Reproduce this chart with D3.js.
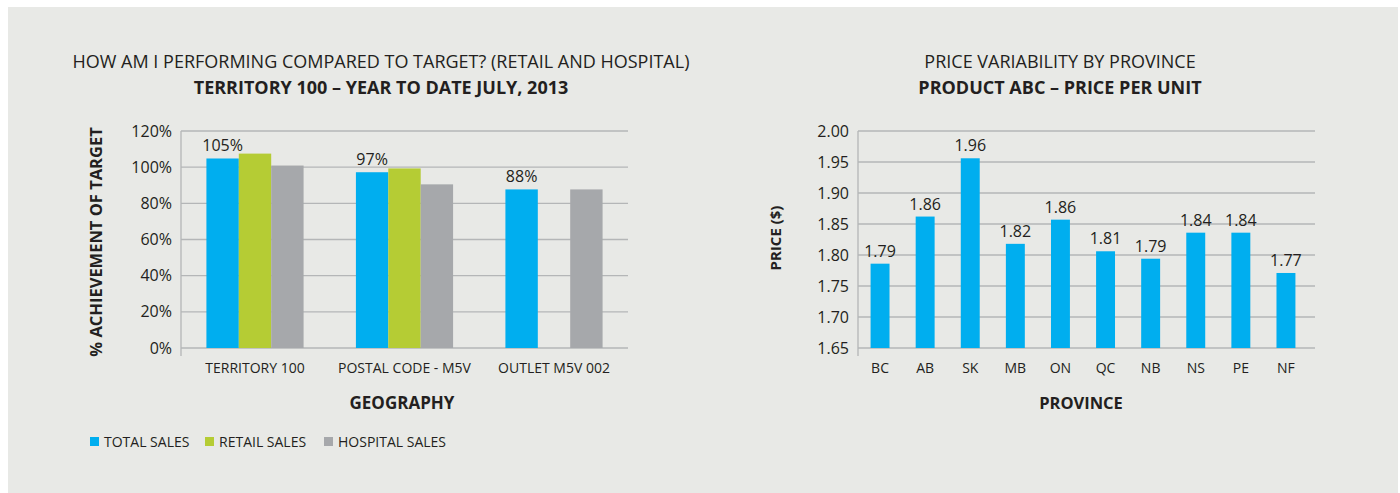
<!DOCTYPE html>
<html>
<head>
<meta charset="utf-8">
<script src="https://cdn.jsdelivr.net/npm/d3@7"></script>
<style>
  body { margin: 0; background: #fff; }
  svg text { font-family: "Open Sans", sans-serif; fill: #231f20; }
</style>
</head>
<body>
<script>
// left chart: achievement vs target
const geographies = ["TERRITORY 100", "POSTAL CODE - M5V", "OUTLET M5V 002"];
const seriesNames = ["TOTAL SALES", "RETAIL SALES", "HOSPITAL SALES"];
const totalSales = [104.8, 97.2, 87.7];
const retailSales = [107.5, 99.3, null];
const hospitalSales = [100.9, 90.5, 87.7];
const pctTicks = [0, 20, 40, 60, 80, 100, 120];
const pctLabels = ["105%", "97%", "88%"];

// right chart: price per unit
const provinces = ["BC", "AB", "SK", "MB", "ON", "QC", "NB", "NS", "PE", "NF"];
const prices = [1.786, 1.862, 1.956, 1.818, 1.857, 1.806, 1.794, 1.836, 1.836, 1.771];
const priceTicks = [1.65, 1.70, 1.75, 1.80, 1.85, 1.90, 1.95, 2.00];

const colors = ["#00aeef", "#b5cc34", "#a6a8ab"];
const gridColor = "#b4b6b7";

const [width, height] = [1400, 493];

const svg = d3.select("body")
  .append("svg")
  .attr("width", width)
  .attr("height", height);

svg.append("rect")
  .attr("x", 8).attr("y", 7)
  .attr("width", 1390).attr("height", 486)
  .attr("fill", "#e8e9e6");

function titles(cx, line1, line2) {
  svg.append("text")
    .attr("x", cx).attr("y", 68)
    .attr("text-anchor", "middle")
    .style("font-size", "18px")
    .text(line1);
  svg.append("text")
    .attr("x", cx).attr("y", 94)
    .attr("text-anchor", "middle")
    .style("font-size", "18px")
    .style("font-weight", "bold")
    .text(line2);
}

function grid(g, y, x0, x1, ticks, fmt) {
  g.selectAll(".grid")
    .data(ticks)
    .enter()
    .append("line")
    .attr("x1", x0).attr("x2", x1)
    .attr("y1", d => y(d)).attr("y2", d => y(d))
    .attr("stroke", gridColor)
    .attr("stroke-width", 1.3);

  g.append("line")
    .attr("x1", x0).attr("x2", x0)
    .attr("y1", y.range()[1]).attr("y2", y.range()[0] + 8)
    .attr("stroke", gridColor)
    .attr("stroke-width", 1.3);

  g.selectAll(".ytick")
    .data(ticks)
    .enter()
    .append("text")
    .attr("x", x0 - 9)
    .attr("y", d => y(d))
    .attr("dy", "0.35em")
    .attr("text-anchor", "end")
    .style("font-size", "16px")
    .text(fmt);
}

// ---- left chart
titles(381, "HOW AM I PERFORMING COMPARED TO TARGET? (RETAIL AND HOSPITAL)",
  "TERRITORY 100 \u2013 YEAR TO DATE JULY, 2013");

const left = svg.append("g");
const yPct = d3.scaleLinear().domain([0, 120]).range([348, 131]);
const xGeo = d3.scaleBand().domain(geographies).range([180.25, 628.75]).paddingInner(0.35).paddingOuter(0.175);
const xSeries = d3.scaleBand().domain(seriesNames).range([0, xGeo.bandwidth()]);

grid(left, yPct, 181, 628, pctTicks, d => d + "%");

const rows = geographies.map((g, i) => ({
  geo: g,
  values: [totalSales[i], retailSales[i], hospitalSales[i]]
}));

left.selectAll(".group")
  .data(rows)
  .enter()
  .append("g")
  .attr("transform", d => `translate(${xGeo(d.geo)},0)`)
  .selectAll("rect")
  .data(d => d.values.map((v, j) => ({ s: seriesNames[j], v, j })).filter(d => d.v != null))
  .enter()
  .append("rect")
  .attr("x", d => xSeries(d.s))
  .attr("width", xSeries.bandwidth())
  .attr("y", d => yPct(d.v))
  .attr("height", d => yPct(0) - yPct(d.v))
  .attr("fill", d => colors[d.j]);

left.selectAll(".vlabel")
  .data(rows)
  .enter()
  .append("text")
  .attr("x", (d, i) => xGeo(d.geo) + xSeries(seriesNames[0]) + xSeries.bandwidth() / 2)
  .attr("y", (d, i) => yPct(totalSales[i]) - 7)
  .attr("text-anchor", "middle")
  .style("font-size", "16px")
  .text((d, i) => pctLabels[i]);

left.selectAll(".xlabel")
  .data(geographies)
  .enter()
  .append("text")
  .attr("x", d => xGeo(d) + xGeo.bandwidth() / 2)
  .attr("y", 373)
  .attr("text-anchor", "middle")
  .style("font-size", "14px")
  .text(d => d);

left.append("text")
  .attr("x", 402).attr("y", 409)
  .attr("text-anchor", "middle")
  .style("font-size", "17px")
  .style("font-weight", "bold")
  .text("GEOGRAPHY");

left.append("text")
  .attr("transform", "translate(102,242) rotate(-90)")
  .attr("text-anchor", "middle")
  .style("font-size", "16.5px")
  .style("font-weight", "bold")
  .text("% ACHIEVEMENT OF TARGET");

const legendX = [90, 205, 324];
const legend = left.selectAll(".legend")
  .data(seriesNames)
  .enter()
  .append("g")
  .attr("transform", (d, i) => `translate(${legendX[i]},437)`);
legend.append("rect")
  .attr("width", 9).attr("height", 9)
  .attr("fill", (d, i) => colors[i]);
legend.append("text")
  .attr("x", 14).attr("y", 10)
  .style("font-size", "14px")
  .text(d => d);

// ---- right chart
titles(1060, "PRICE VARIABILITY BY PROVINCE", "PRODUCT ABC \u2013 PRICE PER UNIT");

const right = svg.append("g");
const yPrice = d3.scaleLinear().domain([1.65, 2.0]).range([348, 131]);
const xProv = d3.scaleBand().domain(provinces).range([857.5, 1308.5]).paddingInner(0.58).paddingOuter(0.29);

grid(right, yPrice, 858, 1315, priceTicks, d3.format(".2f"));

right.selectAll(".bar")
  .data(provinces)
  .enter()
  .append("rect")
  .attr("x", d => xProv(d))
  .attr("width", xProv.bandwidth())
  .attr("y", (d, i) => yPrice(prices[i]))
  .attr("height", (d, i) => yPrice(1.65) - yPrice(prices[i]))
  .attr("fill", colors[0]);

right.selectAll(".vlabel")
  .data(provinces)
  .enter()
  .append("text")
  .attr("x", d => xProv(d) + xProv.bandwidth() / 2)
  .attr("y", (d, i) => yPrice(prices[i]) - 7)
  .attr("text-anchor", "middle")
  .style("font-size", "16px")
  .text((d, i) => d3.format(".2f")(prices[i]));

right.selectAll(".xlabel")
  .data(provinces)
  .enter()
  .append("text")
  .attr("x", d => xProv(d) + xProv.bandwidth() / 2)
  .attr("y", 373)
  .attr("text-anchor", "middle")
  .style("font-size", "14px")
  .text(d => d);

right.append("text")
  .attr("x", 1081).attr("y", 409)
  .attr("text-anchor", "middle")
  .style("font-size", "16.5px")
  .style("font-weight", "bold")
  .text("PROVINCE");

right.append("text")
  .attr("transform", "translate(781,238) rotate(-90)")
  .attr("text-anchor", "middle")
  .style("font-size", "15px")
  .style("font-weight", "bold")
  .text("PRICE ($)");
</script>
</body>
</html>
